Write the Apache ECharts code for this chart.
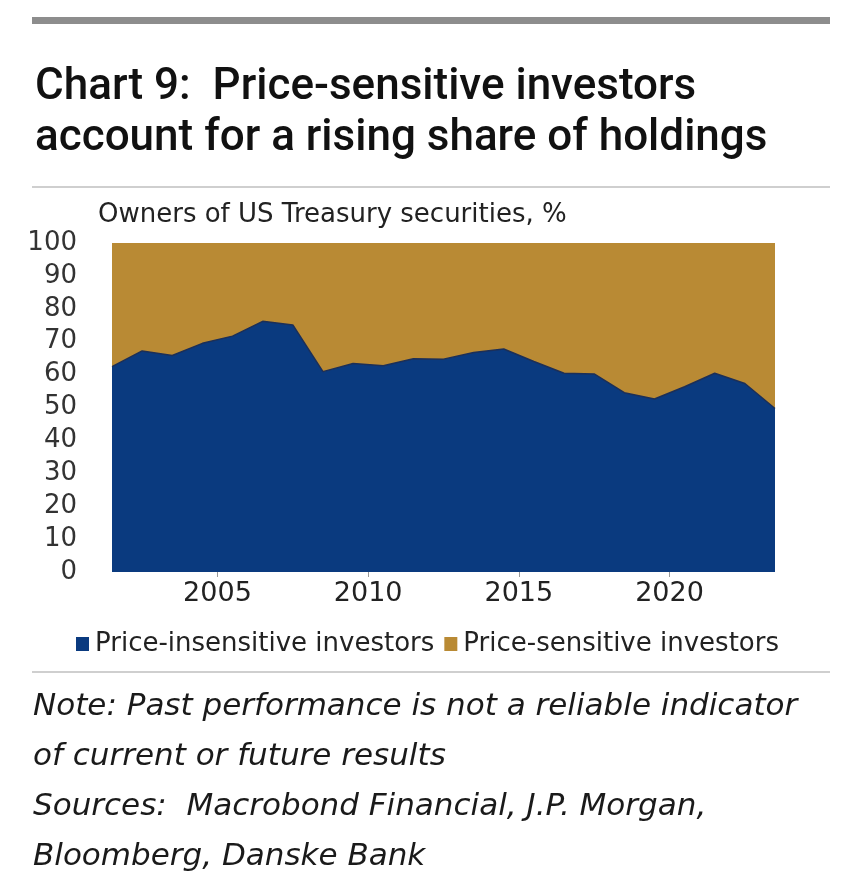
<!DOCTYPE html>
<html>
<head>
<meta charset="utf-8">
<script src="https://cdn.jsdelivr.net/npm/echarts@6/dist/echarts.min.js"></script>
<style>
  html, body { margin: 0; padding: 0; background: #fff; }
  #chart { width: 867px; height: 872px; }
</style>
</head>
<body>
<div id="chart"></div>
<script>
// Years of the annual observations (plotted at mid-year)
const years = [2001, 2002, 2003, 2004, 2005, 2006, 2007, 2008, 2009, 2010, 2011, 2012,
               2013, 2014, 2015, 2016, 2017, 2018, 2019, 2020, 2021, 2022, 2023];
// Share of price-insensitive owners, %
const priceInsensitive = [62.4, 67.2, 65.8, 69.5, 71.7, 76.2, 75.1, 60.9, 63.4, 62.7, 64.8, 64.7,
                          66.7, 67.8, 64.0, 60.4, 60.2, 54.5, 52.6, 56.3, 60.4, 57.3, 49.7];
// Share of price-sensitive owners, %
const priceSensitive = [37.6, 32.8, 34.2, 30.5, 28.3, 23.8, 24.9, 39.1, 36.6, 37.3, 35.2, 35.3,
                        33.3, 32.2, 36.0, 39.6, 39.8, 45.5, 47.4, 43.7, 39.6, 42.7, 50.3];
const xTickLabels = [2005, 2010, 2015, 2020];
const yTickLabels = [0, 10, 20, 30, 40, 50, 60, 70, 80, 90, 100];
const seriesNames = ['Price-insensitive investors', 'Price-sensitive investors'];

const FONT = '"DejaVu Sans", sans-serif';
const TITLE_FONT = 'Roboto, "Noto Sans", sans-serif';
const chart = echarts.init(document.getElementById('chart'), null, { renderer: 'canvas' });

const BLUE = '#0a3a7f';
const GOLD = '#b98a34';

const option = {
  backgroundColor: '#ffffff',
  animation: false,
  title: [
    {
      text: 'Chart 9:  Price-sensitive investors\naccount for a rising share of holdings',
      left: 30, top: 57,
      textStyle: { fontFamily: TITLE_FONT, fontSize: 44, fontWeight: 500, color: '#111', lineHeight: 51 }
    },
    {
      text: 'Owners of US Treasury securities, %',
      left: 93, top: 197,
      textStyle: { fontFamily: FONT, fontSize: 26, fontWeight: 'normal', color: '#222' }
    }
  ],
  legend: {
    left: 71, top: 626,
    icon: 'rect', itemWidth: 13, itemHeight: 14, itemGap: 10,
    textStyle: { fontFamily: FONT, fontSize: 26, color: '#222', padding: [0, 0, 0, 1] },
    data: seriesNames
  },
  grid: { left: 112, right: 92, top: 243, bottom: 300 },
  xAxis: {
    type: 'value', min: 2001.5, max: 2023.5,
    splitLine: { show: false },
    axisLine: { show: false },
    axisTick: { show: true, customValues: xTickLabels, length: 5, lineStyle: { color: '#999' } },
    axisLabel: { customValues: xTickLabels, margin: 8, fontFamily: FONT, fontSize: 27, color: '#222',
                 formatter: v => String(v) }
  },
  yAxis: {
    type: 'value', min: 0, max: 100, interval: 10,
    splitLine: { show: false }, axisLine: { show: false }, axisTick: { show: false },
    axisLabel: { margin: 35, fontFamily: FONT, fontSize: 26, color: '#333',
                 customValues: yTickLabels }
  },
  series: [
    {
      name: seriesNames[1], type: 'line', symbol: 'none', z: 1,
      color: GOLD,
      lineStyle: { width: 0 },
      areaStyle: { color: GOLD, opacity: 1 },
      // top of the stack: insensitive share + sensitive share
      data: years.map((y, i) => [y + 0.5, priceInsensitive[i] + priceSensitive[i]])
    },
    {
      name: seriesNames[0], type: 'line', symbol: 'none', z: 2,
      color: BLUE,
      lineStyle: { color: '#1c2f58', width: 1.5 },
      areaStyle: { color: BLUE, opacity: 1 },
      data: years.map((y, i) => [y + 0.5, priceInsensitive[i]])
    }
  ],
  graphic: [
    { type: 'rect', shape: { x: 32, y: 17, width: 798, height: 7 }, style: { fill: '#8d8d8d' } },
    { type: 'rect', shape: { x: 32, y: 186, width: 798, height: 2 }, style: { fill: '#cfcfcf' } },
    { type: 'rect', shape: { x: 32, y: 671, width: 798, height: 2 }, style: { fill: '#cfcfcf' } },
    { type: 'text', left: 33, top: 691, style: { text: 'Note: Past performance is not a reliable indicator',
      font: 'italic 31px ' + FONT, fill: '#1a1a1a' } },
    { type: 'text', left: 33, top: 741, style: { text: 'of current or future results',
      font: 'italic 31px ' + FONT, fill: '#1a1a1a' } },
    { type: 'text', left: 33, top: 791, style: { text: 'Sources:  Macrobond Financial, J.P. Morgan,',
      font: 'italic 31px ' + FONT, fill: '#1a1a1a' } },
    { type: 'text', left: 33, top: 841, style: { text: 'Bloomberg, Danske Bank',
      font: 'italic 31px ' + FONT, fill: '#1a1a1a' } }
  ]
};
chart.setOption(option);
</script>
</body>
</html>
